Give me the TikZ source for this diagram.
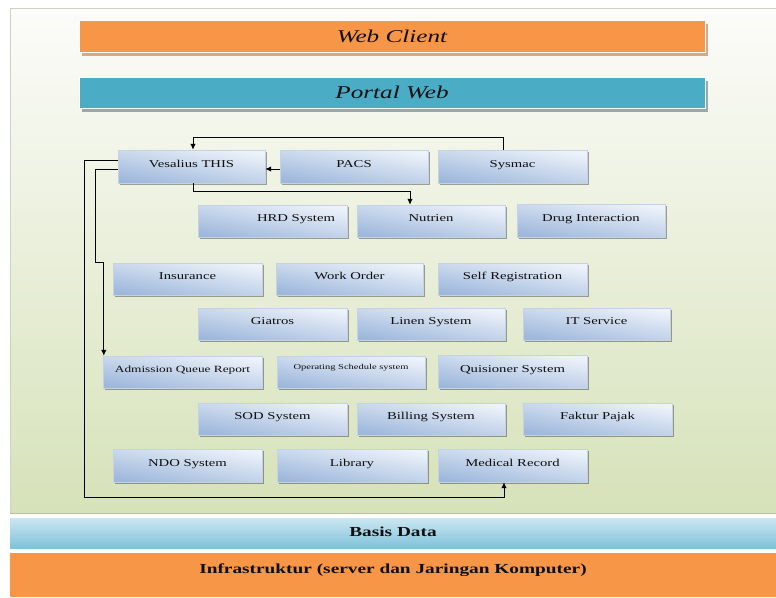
\documentclass[tikz,border=0pt]{standalone}
\usepackage{fontspec}
\setmainfont{Liberation Serif}[FakeStretch=1.4]
\usetikzlibrary{arrows.meta,shadows}

\definecolor{orangebar}{RGB}{247,150,70}
\definecolor{tealbar}{RGB}{75,172,198}
\definecolor{boxtop}{RGB}{238,243,250}
\definecolor{boxbot}{RGB}{158,184,220}
\definecolor{boxedge}{RGB}{196,210,230}
\definecolor{textdark}{RGB}{15,15,15}
\definecolor{paneltop}{RGB}{252,252,250}
\definecolor{panelmid}{RGB}{236,241,221}
\definecolor{panelbot}{RGB}{214,226,185}
\definecolor{panelline}{RGB}{205,210,196}
\definecolor{dbtop}{RGB}{205,232,242}
\definecolor{dbmid}{RGB}{228,242,247}
\definecolor{dbbot}{RGB}{128,194,218}

\tikzset{
  sysbox/.style={rectangle, inner sep=0pt,
    top color=boxtop, bottom color=boxbot, shading angle=-10,
    draw=boxedge, line width=0.4pt,
    drop shadow={shadow xshift=1.5pt, shadow yshift=-2pt, fill=black, opacity=0.35},
    font=\fontsize{10.5}{12}\selectfont, text=textdark,
    text height=7pt, text depth=6pt},
  layerbar/.style={rectangle, inner sep=0pt, draw=white, line width=1pt,
    font=\fontsize{18}{20}\selectfont\itshape, text=textdark},
  link/.style={draw=black, line width=1pt, -{Latex[length=6pt,width=5.5pt]}},
}

\begin{document}
\begin{tikzpicture}[x=1pt,y=-1pt]
\useasboundingbox (0,0) rectangle (776,597);
\fill[white] (0,0) rectangle (776,597);

% application panel
\shade[top color=paneltop, middle color=panelmid, bottom color=panelbot]
  (10,8) rectangle (776,513);
\draw[panelline, line width=0.8pt] (776,8) -- (10,8) -- (10,513);
\draw[panelbot!85!black, line width=0.6pt] (10,513) -- (776,513);

% client layers
\node[layerbar, fill=orangebar, minimum width=626pt, minimum height=32pt,
  drop shadow={shadow xshift=3pt, shadow yshift=-4pt, fill={rgb,255:red,200;green,150;blue,115}, opacity=0.8}]
  (wc) at (392,36) {Web Client};
\node[layerbar, fill=tealbar, minimum width=626pt, minimum height=31pt,
  drop shadow={shadow xshift=3pt, shadow yshift=-4pt, fill={rgb,255:red,130;green,150;blue,155}, opacity=0.8}]
  (pw) at (392,92.5) {Portal Web};

% application systems
\node[sysbox, minimum width=147pt, minimum height=33pt] (ves) at (191.5,166.5) {Vesalius THIS};
\node[sysbox, minimum width=148pt, minimum height=33pt] (pacs) at (354,166.5) {PACS};
\node[sysbox, minimum width=149pt, minimum height=33pt] (sys) at (512.5,166.5) {Sysmac};

\node[sysbox, minimum width=149pt, minimum height=32pt] (hrd) at (272.5,221) {\hspace*{47pt}HRD System};
\node[sysbox, minimum width=148pt, minimum height=32pt] (nut) at (431,221) {Nutrien};
\node[sysbox, minimum width=148pt, minimum height=33pt] (drug) at (591,220.5) {Drug Interaction};

\node[sysbox, minimum width=149pt, minimum height=32pt] (ins) at (187.5,279) {Insurance};
\node[sysbox, minimum width=147pt, minimum height=32pt] (wo) at (349.5,279) {Work Order};
\node[sysbox, minimum width=149pt, minimum height=32pt] (sreg) at (512.5,279) {Self Registration};

\node[sysbox, minimum width=149pt, minimum height=32pt] (gia) at (272.5,324) {Giatros};
\node[sysbox, minimum width=148pt, minimum height=32pt] (lin) at (431,324) {Linen System};
\node[sysbox, minimum width=147pt, minimum height=32pt] (its) at (596.5,324) {IT Service};

\node[sysbox, minimum width=159pt, minimum height=32pt, font=\fontsize{9.5}{11}\selectfont]
  (adm) at (182.5,372) {Admission Queue Report};
\node[sysbox, minimum width=148pt, minimum height=32pt, font=\fontsize{7.5}{9}\selectfont,
  text height=5pt, text depth=11pt] (ops) at (351,372) {Operating Schedule system};
\node[sysbox, minimum width=149pt, minimum height=33pt] (quis) at (512.5,371.5) {Quisioner System};

\node[sysbox, minimum width=149pt, minimum height=32pt] (sod) at (272.5,419) {SOD System};
\node[sysbox, minimum width=148pt, minimum height=32pt] (bill) at (431,419) {Billing System};
\node[sysbox, minimum width=149pt, minimum height=32pt] (fak) at (597.5,419) {Faktur Pajak};

\node[sysbox, minimum width=149pt, minimum height=33pt] (ndo) at (187.5,465.5) {NDO System};
\node[sysbox, minimum width=150pt, minimum height=33pt] (lib) at (352,465.5) {Library};
\node[sysbox, minimum width=149pt, minimum height=33pt] (mr) at (512.5,465.5) {Medical Record};

% data flows between systems
\coordinate (outer) at (84,497);
\coordinate (inner) at (95,262);
\draw[link] ([xshift=-9pt]sys.north) -- ++(0,-12) -| ([xshift=1.5pt]ves.north);
\draw[link] ([yshift=-2.5pt]pacs.west) -- ([yshift=-2.5pt]ves.east);
\draw[link] ([xshift=1.5pt]ves.south) -- ++(0,8) -| ([xshift=-21pt]nut.north);
\draw[link] ([yshift=6.5pt]ves.west) -| (outer) -| ([xshift=-8.5pt]mr.south);
\draw[link] ([yshift=-2.5pt]ves.west) -| (inner) -| ([xshift=1pt]adm.north west);

% data and infrastructure layers
\shade[top color=dbtop, middle color=dbmid, bottom color=dbbot] (10,517) rectangle (776,548);
\draw[white, line width=1pt] (10,517.5) -- (776,517.5);
\node[font=\fontsize{13.8}{16}\selectfont\bfseries, text=textdark] (db) at (393,532) {Basis Data};
\fill[orangebar] (10,553) rectangle (776,597);
\node[font=\fontsize{13.8}{16}\selectfont\bfseries, text=textdark, anchor=base] (infra) at (393,573) {Infrastruktur (server dan Jaringan Komputer)};
\end{tikzpicture}
\end{document}
